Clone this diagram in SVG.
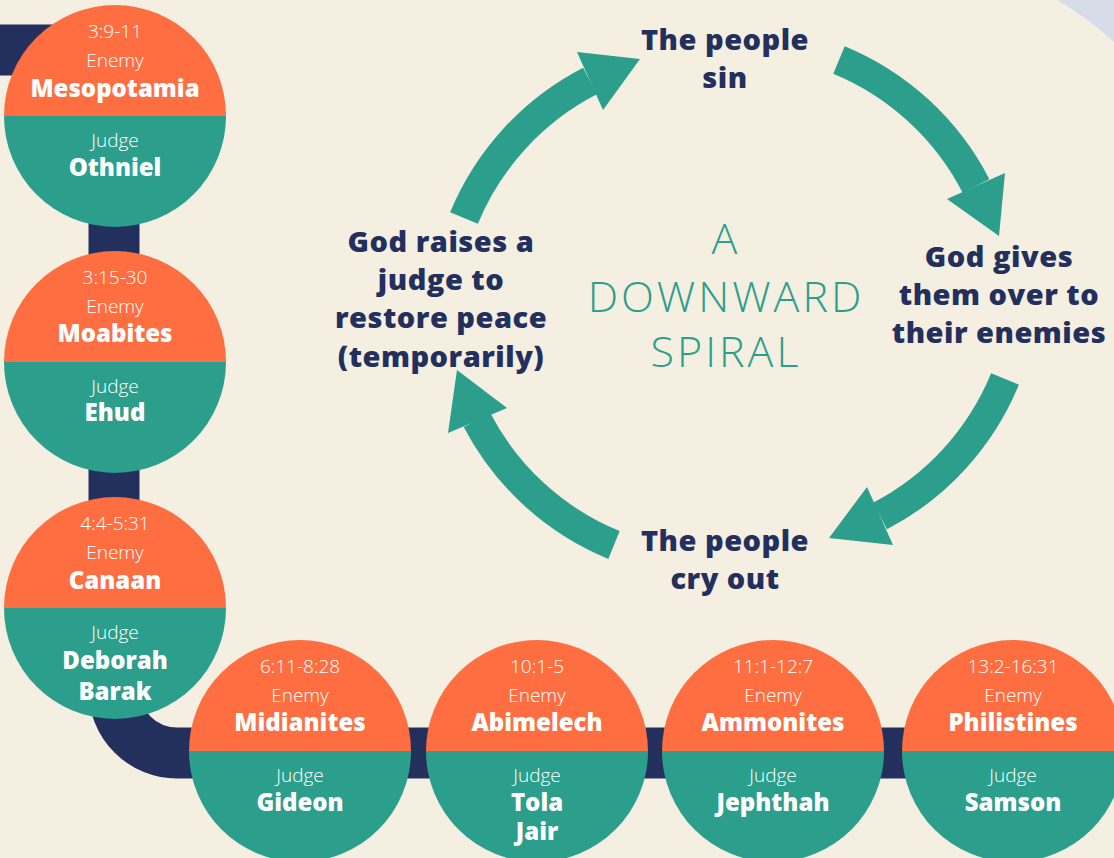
<svg xmlns="http://www.w3.org/2000/svg" width="1114" height="858" viewBox="0 0 1114 858">
<defs>
<style>
.bg{fill:#f5efe2}
.or{fill:#fe6e41}
.tl{fill:#2b9e8c}
.band{fill:none;stroke:#23305d;stroke-width:51}
.shaft{fill:none;stroke:#2b9e8c;stroke-width:30}
.head{fill:#2b9e8c}
.lt{font-family:"Open Sans","Liberation Sans",sans-serif;font-weight:300;font-size:19px;fill:#ffffff;text-anchor:middle}
.nm{font-family:"Open Sans","Liberation Sans",sans-serif;font-weight:800;font-size:24px;fill:#ffffff;text-anchor:middle}
.lbl{font-family:"Open Sans","Liberation Sans",sans-serif;font-weight:800;font-size:29px;letter-spacing:0.5px;fill:#23305d;text-anchor:middle}
.ttl{font-family:"Open Sans","Liberation Sans",sans-serif;font-weight:300;font-size:43px;letter-spacing:3px;fill:#2b9e8c;text-anchor:middle}
</style>
</defs>
<rect class="bg" x="0" y="0" width="1114" height="858"/>
<path d="M1057,0 Q1088,18 1114,42 L1114,0 Z" fill="#d6dde8"/>

<g id="connectors">
<path class="band" d="M0,50 H60 Q114,50 114,100 V690 A63,63 0 0 0 177,753 H1010"/>
<path class="shaft" d="M464,218 A270,270 0 0 1 590,81"/>
<polygon class="head" points="577,52 640,59 603,110"/>
<path class="shaft" d="M839,60 A270,270 0 0 1 976,186"/>
<polygon class="head" points="1005,173 999,236 947,199"/>
<path class="shaft" d="M1005,379 A270,270 0 0 1 880,516"/>
<polygon class="head" points="893,545 829,538 867,487"/>
<path class="shaft" d="M614,545 A270,270 0 0 1 477,420"/>
<polygon class="head" points="448,433 457,370 507,408"/>
</g>

<g id="step-sin">
<text class="lbl" x="725" y="50">The people</text>
<text class="lbl" x="725" y="88">sin</text>
</g>
<g id="step-enemies">
<text class="lbl" x="999" y="267">God gives</text>
<text class="lbl" x="999" y="305">them over to</text>
<text class="lbl" x="999" y="343">their enemies</text>
</g>
<g id="step-cry">
<text class="lbl" x="725" y="551">The people</text>
<text class="lbl" x="725" y="589">cry out</text>
</g>
<g id="step-judge">
<text class="lbl" x="441" y="252">God raises a</text>
<text class="lbl" x="441" y="290">judge to</text>
<text class="lbl" x="441" y="328">restore peace</text>
<text class="lbl" x="441" y="367">(temporarily)</text>
</g>
<g id="title">
<text class="ttl" x="726" y="254">A</text>
<text class="ttl" x="726" y="312">DOWNWARD</text>
<text class="ttl" x="726" y="367">SPIRAL</text>
</g>

<g id="judge-othniel">
<path class="or" d="M4,116 A111,111 0 0 1 226,116 Z"/>
<path class="tl" d="M4,116 A111,111 0 0 0 226,116 Z"/>
<text class="lt" x="115" y="38">3:9-11</text>
<text class="lt" x="115" y="67">Enemy</text>
<text class="nm" x="115" y="97">Mesopotamia</text>
<text class="lt" x="115" y="147">Judge</text>
<text class="nm" x="115" y="176">Othniel</text>
</g>
<g id="judge-ehud">
<path class="or" d="M4,362 A111,111 0 0 1 226,362 Z"/>
<path class="tl" d="M4,362 A111,111 0 0 0 226,362 Z"/>
<text class="lt" x="115" y="284">3:15-30</text>
<text class="lt" x="115" y="313">Enemy</text>
<text class="nm" x="115" y="342">Moabites</text>
<text class="lt" x="115" y="393">Judge</text>
<text class="nm" x="115" y="421">Ehud</text>
</g>
<g id="judge-deborah">
<path class="or" d="M4,608 A111,111 0 0 1 226,608 Z"/>
<path class="tl" d="M4,608 A111,111 0 0 0 226,608 Z"/>
<text class="lt" x="115" y="530">4:4-5:31</text>
<text class="lt" x="115" y="559">Enemy</text>
<text class="nm" x="115" y="589">Canaan</text>
<text class="lt" x="115" y="639">Judge</text>
<text class="nm" x="115" y="669">Deborah</text>
<text class="nm" x="115" y="700">Barak</text>
</g>
<g id="judge-gideon">
<path class="or" d="M189,751 A111,111 0 0 1 411,751 Z"/>
<path class="tl" d="M189,751 A111,111 0 0 0 411,751 Z"/>
<text class="lt" x="300" y="673">6:11-8:28</text>
<text class="lt" x="300" y="702">Enemy</text>
<text class="nm" x="300" y="731">Midianites</text>
<text class="lt" x="300" y="782">Judge</text>
<text class="nm" x="300" y="811">Gideon</text>
</g>
<g id="judge-tola">
<path class="or" d="M426,751 A111,111 0 0 1 648,751 Z"/>
<path class="tl" d="M426,751 A111,111 0 0 0 648,751 Z"/>
<text class="lt" x="537" y="673">10:1-5</text>
<text class="lt" x="537" y="702">Enemy</text>
<text class="nm" x="537" y="731">Abimelech</text>
<text class="lt" x="537" y="782">Judge</text>
<text class="nm" x="537" y="811">Tola</text>
<text class="nm" x="537" y="840">Jair</text>
</g>
<g id="judge-jephthah">
<path class="or" d="M662,751 A111,111 0 0 1 884,751 Z"/>
<path class="tl" d="M662,751 A111,111 0 0 0 884,751 Z"/>
<text class="lt" x="773" y="673">11:1-12:7</text>
<text class="lt" x="773" y="702">Enemy</text>
<text class="nm" x="773" y="731">Ammonites</text>
<text class="lt" x="773" y="782">Judge</text>
<text class="nm" x="773" y="811">Jephthah</text>
</g>
<g id="judge-samson">
<path class="or" d="M902,751 A111,111 0 0 1 1124,751 Z"/>
<path class="tl" d="M902,751 A111,111 0 0 0 1124,751 Z"/>
<text class="lt" x="1013" y="673">13:2-16:31</text>
<text class="lt" x="1013" y="702">Enemy</text>
<text class="nm" x="1013" y="731">Philistines</text>
<text class="lt" x="1013" y="782">Judge</text>
<text class="nm" x="1013" y="811">Samson</text>
</g>
</svg>
